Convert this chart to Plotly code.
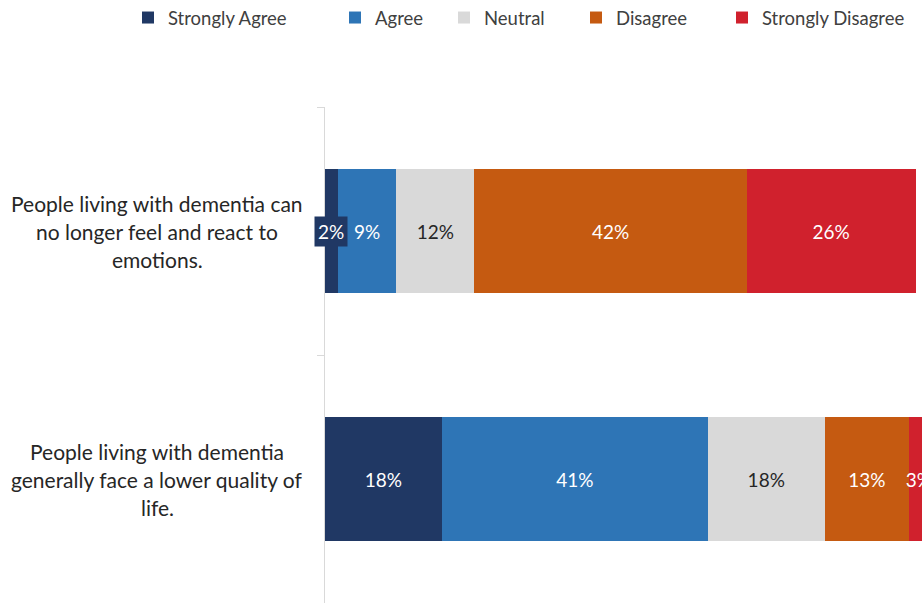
import plotly.graph_objects as go

# Survey statements (top to bottom) and response shares in percent
statements = [
    "People living with dementia can<br>no longer feel and react to<br>emotions.",
    "People living with dementia<br>generally face a lower quality of<br>life.",
]
responses = ["Strongly Agree", "Agree", "Neutral", "Disagree", "Strongly Disagree"]
strongly_agree = [2, 18]
agree = [9, 41]
neutral = [12, 18]
disagree = [42, 13]
strongly_disagree = [26, 3]

series = [strongly_agree, agree, neutral, disagree, strongly_disagree]
colors = ["#203864", "#2e75b6", "#d9d9d9", "#c55a11", "#d0212d"]
label_colors = ["white", "white", "#262626", "white", "white"]
legend_left_px = [128, 335, 444, 576, 722]

FONT = "Lato"
W, H = 922, 605

fig = go.Figure()
legend_layouts = {}
for i, (name, vals, col, lc) in enumerate(zip(responses, series, colors, label_colors)):
    lg = "legend" if i == 0 else f"legend{i + 1}"
    # the tiny 2% segment gets a boxed callout instead of an inside label
    texts = ["" if v < 3 and i == 0 else f"{v}%" for v in vals]
    fig.add_trace(go.Bar(
        name=name, y=statements, x=vals, orientation="h",
        marker=dict(color=col, line=dict(width=0)),
        text=texts, textposition="inside", insidetextanchor="middle",
        textangle=0, textfont=dict(family=FONT, size=19, color=lc),
        legend=lg, hoverinfo="skip",
    ))
    legend_layouts[lg] = dict(
        x=legend_left_px[i] / W, xref="container", xanchor="left",
        y=1 - 18 / H, yref="container", yanchor="middle",
        orientation="h", bgcolor="rgba(0,0,0,0)",
        font=dict(family=FONT, size=18.5, color="#404040"),
        itemwidth=30,
    )

# boxed callout for the narrow Strongly Agree segment
for stmt, v in zip(statements, strongly_agree):
    if v < 3:
        fig.add_annotation(
            x=v / 2, y=stmt, xref="x", yref="y", text=f"{v}%",
            showarrow=False, bgcolor=colors[0], borderpad=3,
            font=dict(family=FONT, size=19, color="white"),
        )

# category labels, centered to the left of the axis
plot_left, plot_w = 325, W - 325
label_center_px = 157
for stmt in statements:
    lines = stmt.split("<br>")
    n = len(lines)
    for j, line in enumerate(lines):
        fig.add_annotation(
            x=(label_center_px - plot_left) / plot_w, xref="paper",
            y=stmt, yref="y", yshift=-(j - (n - 1) / 2) * 28,
            text=line, showarrow=False, xanchor="center", yanchor="middle",
            font=dict(family=FONT, size=21, color="#262626"),
        )

fig.update_layout(
    width=W, height=H,
    margin=dict(l=325, r=0, t=107, b=2),
    barmode="stack", bargap=0.5,
    plot_bgcolor="white", paper_bgcolor="white",
    showlegend=True,
    uniformtext=dict(mode="show", minsize=19),
    **legend_layouts,
)
fig.update_xaxes(range=[0, 92], visible=False, fixedrange=True)
fig.update_yaxes(
    type="category", categoryorder="array", categoryarray=statements,
    autorange="reversed", showticklabels=False, showgrid=False,
    showline=True, linecolor="#d9d9d9", linewidth=1,
    ticks="outside", tickson="boundaries", ticklen=7, tickcolor="#d9d9d9",
    layer="below traces", zeroline=False,
)

fig.write_html("out.html")
